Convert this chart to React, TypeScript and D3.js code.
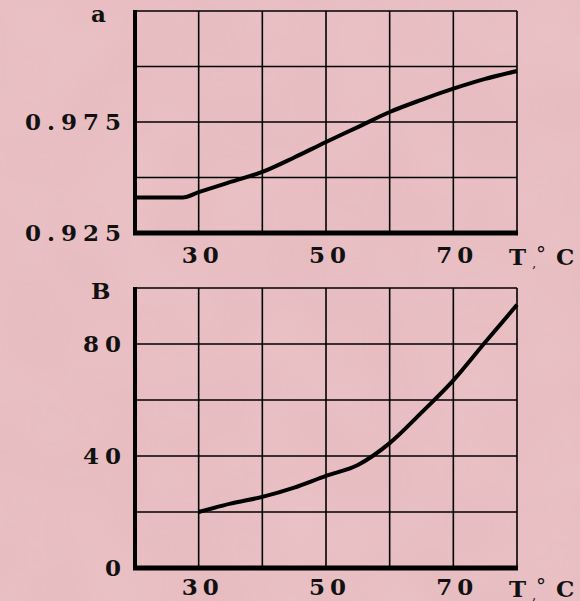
import React from 'react';
import * as d3 from 'd3';

// panel "а": temperature vs density-like ratio
const tempA = [20, 27.5, 30, 35, 40, 45, 50, 55, 60, 65, 70, 75, 80];
const valueA = [0.941, 0.941, 0.9434, 0.948, 0.9525, 0.959, 0.966, 0.9727, 0.9795, 0.985, 0.99, 0.9944, 0.998];
const yTicksA = [0.925, 0.95, 0.975, 1.0, 1.025];
const yLabelsA = ['0.925', '0.975'];

// panel "В"
const tempB = [30, 35, 40, 45, 50, 55, 60, 65, 70, 75, 80];
const valueB = [20, 23, 25.4, 28.7, 32.9, 36.8, 44.6, 55.5, 67, 80.6, 94];
const yTicksB = [0, 20, 40, 60, 80, 100];
const yLabelsB = ['0', '40', '80'];

const xTicks = [20, 30, 40, 50, 60, 70, 80];
const xLabels = ['30', '50', '70'];

const W = 580;
const H = 601;
const FONT = '"DejaVu Serif", serif';

const x = d3.scaleLinear().domain([20, 80]).range([135, 517]);

type PanelProps = {
  temps: number[];
  values: number[];
  yDomain: [number, number];
  yRange: [number, number];
  yTicks: number[];
  yLabels: string[];
  title: string;
  labelY: number;
};

const Panel = ({ temps, values, yDomain, yRange, yTicks, yLabels, title, labelY }: PanelProps) => {
  const y = d3.scaleLinear().domain(yDomain).range(yRange);
  const line = d3.line<number>()
    .x((_, i) => x(temps[i]))
    .y((d) => y(d))
    .curve(d3.curveMonotoneX);
  const [bottom, top] = yRange;
  const left = x.range()[0];
  const right = x.range()[1];

  return (
    <g>
      {xTicks.map((t) => (
        <line key={'vx' + t} x1={x(t)} x2={x(t)} y1={top} y2={bottom} stroke="#000" strokeWidth={1.6} />
      ))}
      {yTicks.map((t) => (
        <line key={'hy' + t} x1={left} x2={right} y1={y(t)} y2={y(t)} stroke="#000" strokeWidth={1.6} />
      ))}
      {/* thick axes */}
      <line x1={left} x2={left} y1={top - 1} y2={bottom + 2} stroke="#000" strokeWidth={4} />
      <line x1={left - 2} x2={right + 1} y1={bottom} y2={bottom} stroke="#000" strokeWidth={5} />

      <path d={line(values) || ''} fill="none" stroke="#000" strokeWidth={4} strokeLinejoin="round" />

      <g fontFamily={FONT} fontWeight="bold" fontSize={23} fill="#111">
        {yLabels.map((l) => (
          <text key={'yl' + l} x={127} y={y(+l) + 8} textAnchor="end" letterSpacing={6}>
            {l}
          </text>
        ))}
        {xLabels.map((l) => (
          <text key={'xl' + l} x={x(+l) + 4} y={labelY} textAnchor="middle" letterSpacing={5}>
            {l}
          </text>
        ))}
        <text x={509} y={labelY + 2}>
          T
          <tspan dx={6} dy={2} fontSize={12} fontWeight="normal">,</tspan>
          <tspan dx={0} dy={-6} fontSize={20} fontWeight="normal">°</tspan>
          <tspan dx={10} dy={4}>C</tspan>
        </text>
        <text x={91} y={top + 11}>{title}</text>
      </g>
    </g>
  );
};

const App = () => {
  return (
    <svg width={W} height={H} style={{ position: 'absolute', left: 0, top: 0 }}>
      <defs>
        <filter id="mottle" x="0" y="0" width="100%" height="100%">
          <feTurbulence type="fractalNoise" baseFrequency="0.012" numOctaves={2} seed={4} />
          <feColorMatrix type="matrix" values="0 0 0 0 0.55  0 0 0 0 0.3  0 0 0 0 0.32  0 0 0 0.35 0" />
        </filter>
      </defs>
      <rect width={W} height={H} fill="#ebc2c6" />
      <rect width={W} height={H} filter="url(#mottle)" opacity={0.45} />
      <Panel
        temps={tempA}
        values={valueA}
        yDomain={[0.925, 1.025]}
        yRange={[233, 11]}
        yTicks={yTicksA}
        yLabels={yLabelsA}
        title="а"
        labelY={263}
      />
      <Panel
        temps={tempB}
        values={valueB}
        yDomain={[0, 100]}
        yRange={[568, 288]}
        yTicks={yTicksB}
        yLabels={yLabelsB}
        title="В"
        labelY={595}
      />
    </svg>
  );
};

export default App;
